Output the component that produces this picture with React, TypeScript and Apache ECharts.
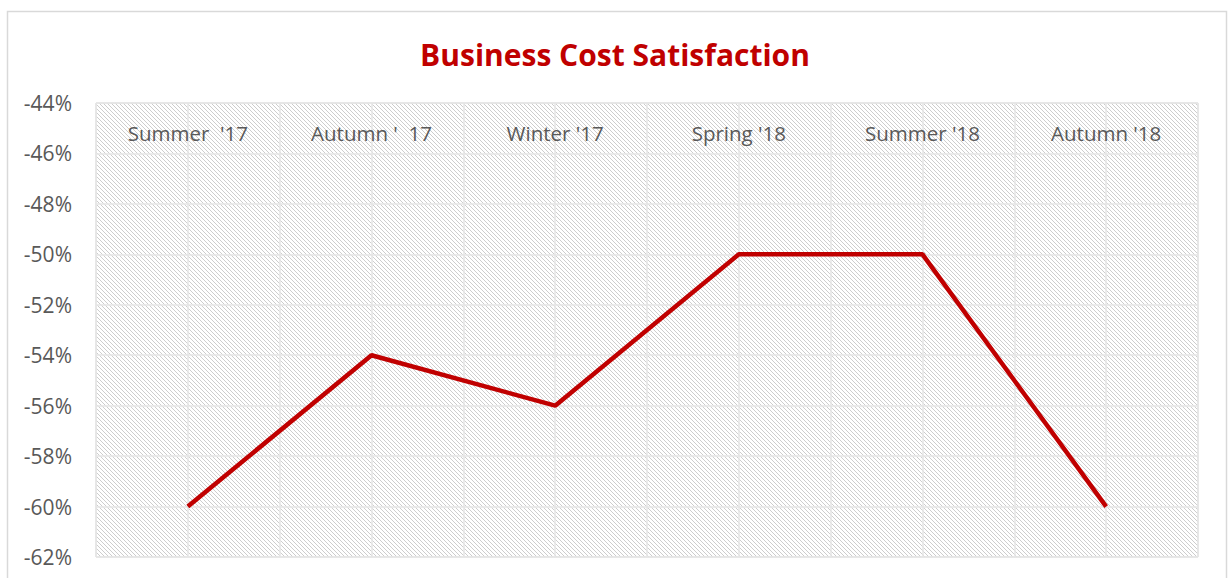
import React, { useEffect, useRef } from "react";
import * as echarts from "echarts";

const categories = ["Summer  '17", "Autumn '  17", "Winter '17", "Spring '18", "Summer '18", "Autumn '18"];
const values = [-60, -54, -56, -50, -50, -60];
const yMin = -62;
const yMax = -44;
const yStep = 2;
const halfSlots = ["", "", "", "", "", "", "", "", "", "", "", ""];

function makePattern(): HTMLCanvasElement {
  const c = document.createElement("canvas");
  c.width = 8;
  c.height = 8;
  const ctx = c.getContext("2d")!;
  ctx.fillStyle = "#ffffff";
  ctx.fillRect(0, 0, 8, 8);
  for (let y = 0; y < 8; y++) {
    for (let x = 0; x < 8; x++) {
      const d = (((x - y) % 4) + 4) % 4;
      if (d === 0) {
        ctx.fillStyle = "#cdcdcd";
        ctx.fillRect(x, y, 1, 1);
      }
    }
  }
  return c;
}

export default function App() {
  const ref = useRef<HTMLDivElement>(null);
  useEffect(() => {
    document.body.style.margin = "0";
    const chart = echarts.init(ref.current!, null, { renderer: "svg" });
    const pattern = makePattern();
    chart.setOption({
      animation: false,
      backgroundColor: "#ffffff",
      title: {
        text: "Business Cost Satisfaction",
        left: "center",
        top: 34,
        textStyle: {
          color: "#C00000",
          fontSize: 30,
          fontWeight: "bold",
          fontFamily: "Open Sans",
        },
      },
      graphic: [
        {
          type: "rect",
          shape: { x: 7.5, y: 11.5, width: 1219, height: 620 },
          style: { fill: "none", stroke: "#d9d9d9", lineWidth: 1.5 },
          silent: true,
          z: -10,
        },
        {
          type: "rect",
          shape: { x: 96, y: 103, width: 1102, height: 454 },
          style: { fill: { image: pattern, repeat: "repeat" } as any },
          silent: true,
          z: -5,
        },
      ],
      grid: {
        left: 96,
        right: 32,
        top: 103,
        bottom: 21,
        show: true,
        borderColor: "#d9d9d9",
        borderWidth: 1,
        backgroundColor: "transparent",
      },
      xAxis: [
        {
          type: "category",
          data: categories,
          position: "top",
          boundaryGap: true,
          axisLine: { show: false },
          axisTick: { show: false },
          splitLine: { show: false },
          axisLabel: {
            inside: true,
            interval: 0,
            margin: 19,
            color: "#595959",
            fontSize: 20.5,
            fontFamily: "Open Sans",
          },
        },
        {
          type: "category",
          data: halfSlots,
          position: "bottom",
          boundaryGap: true,
          axisLine: { show: false },
          axisTick: { show: false },
          axisLabel: { show: false },
          splitLine: { show: true, interval: 0, lineStyle: { color: "#e6e6e6", width: 1.5 } },
        },
      ],
      yAxis: {
        type: "value",
        min: yMin,
        max: yMax,
        interval: yStep,
        axisLine: { show: false },
        axisTick: { show: false },
        splitLine: { show: true, lineStyle: { color: "#e6e6e6", width: 1.5 } },
        axisLabel: {
          margin: 24,
          color: "#595959",
          fontSize: 21,
          fontFamily: "Open Sans",
          formatter: (v: number) => `${v}%`,
        },
      },
      series: [
        {
          type: "line",
          data: values,
          xAxisIndex: 0,
          symbol: "none",
          lineStyle: { color: "#C00000", width: 4.5 },
          itemStyle: { color: "#C00000" },
        },
      ],
    });
    return () => chart.dispose();
  }, []);
  return <div ref={ref} style={{ width: 1230, height: 578 }} />;
}
